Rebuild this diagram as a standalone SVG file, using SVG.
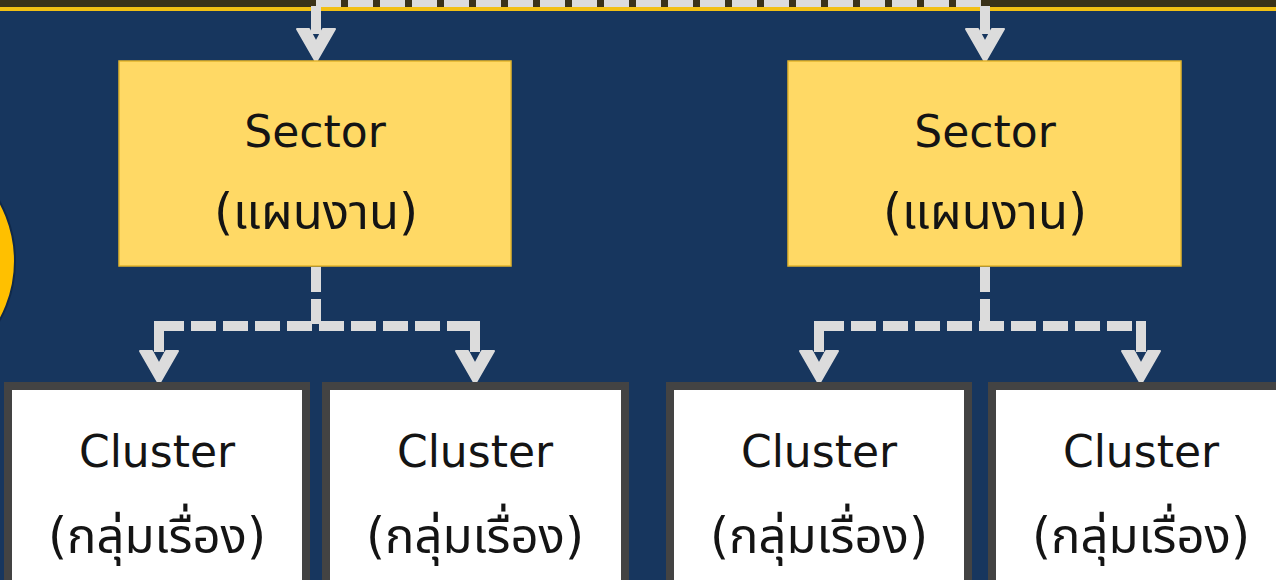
<svg xmlns="http://www.w3.org/2000/svg" xmlns:xlink="http://www.w3.org/1999/xlink" width="1276" height="580" viewBox="0 0 1276 580">
  <defs>
    <style>
      .bg { fill: #17365e; }
      .sector { fill: #ffd965; stroke: #e3b52c; stroke-width: 1.5; }
      .cluster { fill: #ffffff; stroke: #434343; stroke-width: 8; }
      .lbl { font-family: "DejaVu Sans", "Noto Sans Thai", "Noto Sans", sans-serif; font-size: 44px; fill: #141414; text-anchor: middle; }
      .th { font-size: 49px; }
      .dash { fill: none; stroke: #dcdcdc; stroke-width: 10; stroke-dasharray: 25 7; }
      .solid { fill: none; stroke: #dcdcdc; stroke-width: 10; }
      .ah { fill: #dcdcdc; stroke: #dcdcdc; stroke-width: 2; stroke-linejoin: round; }
    </style>
    <polygon id="ah" class="ah" points="0,-1 -19,-34 -7,-34 0,-21 7,-34 19,-34"/>
  </defs>

  <rect class="bg" x="0" y="0" width="1276" height="580"/>
  <rect x="0" y="0" width="1276" height="7" fill="#3a3219"/>
  <rect x="0" y="7" width="1276" height="4" fill="#f2c014"/>
  <circle cx="-107" cy="261" r="122" fill="#ffc000" stroke="#10294a" stroke-width="2"/>

  <g id="connectors">
    <path class="dash" d="M316,2 H985"/>
    <path class="solid" d="M316,6 V34"/>
    <path class="solid" d="M985,6 V34"/>
    <use xlink:href="#ah" href="#ah" x="316" y="63"/>
    <use xlink:href="#ah" href="#ah" x="985" y="63"/>

    <path class="dash" d="M316,267 V326"/>
    <path class="dash" d="M159,326 H475"/>
    <path class="solid" d="M159,321 V352"/>
    <path class="solid" d="M475,321 V352"/>
    <use xlink:href="#ah" href="#ah" x="159" y="385"/>
    <use xlink:href="#ah" href="#ah" x="475" y="385"/>

    <path class="dash" d="M985,267 V326"/>
    <path class="dash" d="M819,326 H1141"/>
    <path class="solid" d="M819,321 V352"/>
    <path class="solid" d="M1141,321 V352"/>
    <use xlink:href="#ah" href="#ah" x="819" y="385"/>
    <use xlink:href="#ah" href="#ah" x="1141" y="385"/>
  </g>

  <g id="sector1">
    <rect class="sector" x="119" y="61" width="392" height="205"/>
    <text class="lbl" x="315" y="147">Sector</text>
    <text class="lbl th" x="316" y="229">(แผนงาน)</text>
  </g>
  <g id="sector2">
    <rect class="sector" x="788" y="61" width="393" height="205"/>
    <text class="lbl" x="985" y="147">Sector</text>
    <text class="lbl th" x="985" y="229">(แผนงาน)</text>
  </g>

  <g id="cluster1">
    <rect class="cluster" x="8" y="386" width="298" height="220"/>
    <text class="lbl" x="157" y="467">Cluster</text>
    <text class="lbl th" x="157" y="553">(กลุ่มเรื่อง)</text>
  </g>
  <g id="cluster2">
    <rect class="cluster" x="326" y="386" width="299" height="220"/>
    <text class="lbl" x="475" y="467">Cluster</text>
    <text class="lbl th" x="475" y="553">(กลุ่มเรื่อง)</text>
  </g>
  <g id="cluster3">
    <rect class="cluster" x="670" y="386" width="298" height="220"/>
    <text class="lbl" x="819" y="467">Cluster</text>
    <text class="lbl th" x="819" y="553">(กลุ่มเรื่อง)</text>
  </g>
  <g id="cluster4">
    <rect class="cluster" x="992" y="386" width="298" height="220"/>
    <text class="lbl" x="1141" y="467">Cluster</text>
    <text class="lbl th" x="1141" y="553">(กลุ่มเรื่อง)</text>
  </g>
</svg>
